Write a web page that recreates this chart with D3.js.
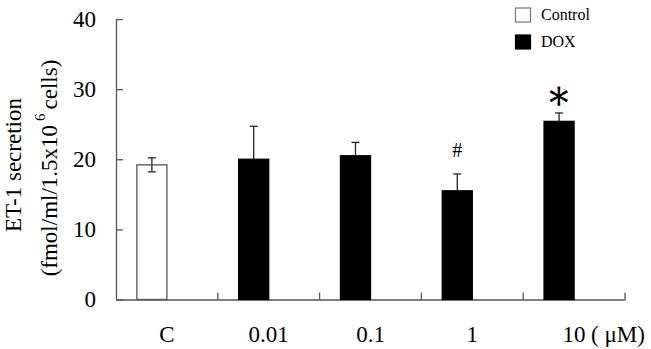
<!DOCTYPE html>
<html>
<head>
    <title>ET-1 secretion</title>
    <script src="https://d3js.org/d3.v7.min.js"></script>
    <style>
        body { margin: 0; background: #fff; }
        text { font-family: "Liberation Serif", "Times New Roman", serif; fill: #000; }
    </style>
</head>
<body>
    <svg width="651" height="349" id="mainsvg"></svg>
    <script>
        // data
        const categories = ['C', '0.01', '0.1', '1', '10'];
        const groups = ['Control', 'DOX', 'DOX', 'DOX', 'DOX'];
        const means = [19.2, 20.0, 20.5, 15.5, 25.4];
        const errors = [1.0, 4.7, 1.9, 2.4, 1.2];
        const marks = ['', '', '', '#', '*'];
        const yTicks = [0, 10, 20, 30, 40];
        const legendItems = ['Control', 'DOX'];

        const svg = d3.select('#mainsvg');
        const plotLeft = 116, plotRight = 625, plotTop = 19, plotBottom = 299.5;

        const xScale = d3.scaleBand().domain(categories).range([plotLeft, plotRight]).padding(0);
        const yScale = d3.scaleLinear().domain([0, 40]).range([plotBottom, plotTop]);
        const barW = xScale.bandwidth() * 0.295;
        const fillOf = g => g === 'Control' ? '#fff' : '#000';
        const axisColor = '#555';
        const labelSize = 23;

        // y axis, ticks point inward
        const yAxis = d3.axisLeft(yScale).tickValues(yTicks)
            .tickSizeInner(-7).tickSizeOuter(0).tickPadding(20);
        const yg = svg.append('g').attr('transform', `translate(${plotLeft},0)`).call(yAxis);
        yg.select('.domain').attr('stroke', axisColor).attr('stroke-width', 1.3);
        yg.selectAll('.tick line').attr('stroke', axisColor).attr('stroke-width', 1.3);
        yg.selectAll('.tick text').attr('font-size', labelSize)
            .attr('font-family', '"Liberation Serif", serif').attr('fill', '#000');

        // x axis labels at band centres
        const xAxis = d3.axisBottom(xScale).tickSize(0).tickPadding(26);
        const xg = svg.append('g').attr('transform', `translate(0,${plotBottom})`).call(xAxis);
        xg.select('.domain').attr('stroke', axisColor).attr('stroke-width', 1.3);
        xg.selectAll('.tick text').attr('font-size', labelSize)
            .attr('font-family', '"Liberation Serif", serif').attr('fill', '#000');

        // unit after the last label
        const lastX = xScale(categories[categories.length - 1]) + xScale.bandwidth() / 2;
        svg.append('text').attr('x', lastX + 17).attr('y', 342)
            .attr('font-size', labelSize).text('( μM)');

        // tick marks at band boundaries
        svg.append('g').selectAll('line').data(categories).join('line')
            .attr('x1', d => xScale(d) + xScale.bandwidth())
            .attr('x2', d => xScale(d) + xScale.bandwidth())
            .attr('y1', plotBottom).attr('y2', plotBottom - 7)
            .attr('stroke', axisColor).attr('stroke-width', 1.3);

        const barX = d => xScale(d) + xScale.bandwidth() / 2 - barW;
        const rows = categories.map((c, i) => ({ c, g: groups[i], v: means[i], e: errors[i], m: marks[i] }));

        // error bars (drawn first, bars cover the lower half for DOX)
        const eg = svg.append('g').attr('stroke', '#222').attr('stroke-width', 1.3);
        rows.forEach(d => {
            const cx = barX(d.c) + barW / 2;
            eg.append('line').attr('x1', cx).attr('x2', cx)
                .attr('y1', yScale(d.v)).attr('y2', yScale(d.v + d.e));
            eg.append('line').attr('x1', cx - 4).attr('x2', cx + 4)
                .attr('y1', yScale(d.v + d.e)).attr('y2', yScale(d.v + d.e));
        });

        // bars
        svg.append('g').selectAll('rect').data(rows).join('rect')
            .attr('x', d => barX(d.c))
            .attr('y', d => yScale(d.v))
            .attr('width', barW)
            .attr('height', d => yScale(0) - yScale(d.v))
            .attr('fill', d => fillOf(d.g))
            .attr('stroke', d => d.g === 'Control' ? axisColor : '#000')
            .attr('stroke-width', 1.3);

        // lower half of the control error bar sits on top of its white bar
        rows.filter(d => d.g === 'Control').forEach(d => {
            const cx = barX(d.c) + barW / 2;
            svg.append('line').attr('x1', cx).attr('x2', cx)
                .attr('y1', yScale(d.v - d.e)).attr('y2', yScale(d.v))
                .attr('stroke', '#222').attr('stroke-width', 1.3);
            svg.append('line').attr('x1', cx - 4).attr('x2', cx + 4)
                .attr('y1', yScale(d.v - d.e)).attr('y2', yScale(d.v - d.e))
                .attr('stroke', '#222').attr('stroke-width', 1.3);
        });

        // significance marks
        rows.filter(d => d.m === '#').forEach(d => {
            svg.append('text').attr('x', barX(d.c) + barW / 2)
                .attr('y', yScale(d.v + d.e) - 17)
                .attr('text-anchor', 'middle').attr('font-size', 20).text(d.m);
        });
        rows.filter(d => d.m === '*').forEach(d => {
            // thin six-armed star like the original's full-width asterisk
            svg.append('text').attr('x', barX(d.c) + barW / 2)
                .attr('y', yScale(d.v + d.e) + 5)
                .attr('text-anchor', 'middle').attr('font-size', 46)
                .attr('font-family', '"Noto Sans CJK JP", sans-serif').text('＊');
        });

        // y title, two lines
        const yt = svg.append('g').attr('transform', 'translate(21,165) rotate(-90)');
        yt.append('text').attr('text-anchor', 'middle').attr('font-size', labelSize).text('ET-1 secretion');
        const t2 = yt.append('text').attr('text-anchor', 'middle').attr('y', 36).attr('x', -3)
            .attr('font-size', labelSize);
        t2.append('tspan').text('(fmol/ml/1.5x10');
        t2.append('tspan').attr('dy', -12).attr('dx', 4).attr('font-size', 15).text('6');
        t2.append('tspan').attr('dy', 12).attr('dx', 4).text('cells)');

        // legend
        const lg = svg.append('g');
        legendItems.forEach((name, i) => {
            lg.append('rect').attr('x', 515.5).attr('y', 8 + i * 27).attr('width', 15).attr('height', 14)
                .attr('fill', fillOf(name)).attr('stroke', name === 'Control' ? '#777' : '#000')
                .attr('stroke-width', 1.2);
            lg.append('text').attr('x', 541).attr('y', 20 + i * 27).attr('font-size', 16).text(name);
        });
    </script>
</body>
</html>
